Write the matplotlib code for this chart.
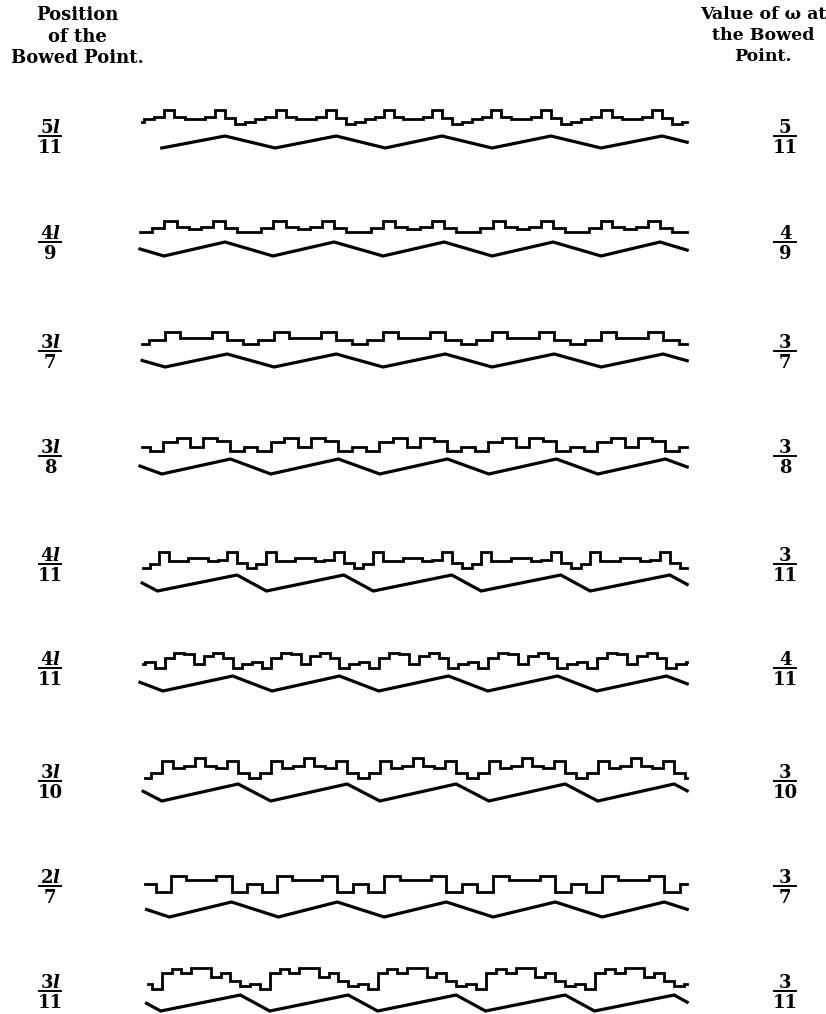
import numpy as np
import matplotlib.pyplot as plt
from matplotlib.lines import Line2D

plt.rcParams['font.family'] = 'DejaVu Serif'
plt.rcParams['font.weight'] = 'bold'
plt.rcParams['mathtext.fontset'] = 'custom'
plt.rcParams['mathtext.rm'] = 'DejaVu Serif:bold'
plt.rcParams['mathtext.bf'] = 'DejaVu Serif:bold'
plt.rcParams['mathtext.it'] = 'DejaVu Serif:italic:bold'

# position of the bowed point (p l / q) and value at the bowed point
pos_num = ['5', '4', '3', '3', '4', '4', '3', '2', '3']
pos_den = ['11', '9', '7', '8', '11', '11', '10', '7', '11']
val_num = ['5', '4', '3', '3', '3', '4', '3', '3', '3']
val_den = ['11', '9', '7', '8', '11', '11', '10', '7', '11']

# one period of the stepped curve (0 = low, 1 = high), starting at a peak of the triangle
step_levels = [
    [0.45, 0.1, 0.2, 0.4, 0.55, 1.0, 0.55, 0.4, 0.4, 0.55, 1.0],
    [0.4, 0.05, 0.05, 0.4, 1.0, 0.5, 0.3, 0.5, 1.0],
    [0.375, 0.05, 0.375, 1.0, 0.55, 0.55, 1.0],
    [0.08, 0.33, 0.08, 0.75, 1.0, 0.33, 1.0, 0.8],
    [0.3, 0.0, 0.25, 1.0, 0.45, 0.45, 0.65, 0.6, 0.45, 0.5, 1.0],
    [0.0, 0.3, 0.4, 0.0, 0.7, 1.0, 0.95, 0.25, 0.8, 1.0, 0.65],
    [0.24, 0.0, 0.24, 0.84, 0.48, 0.61, 1.0, 0.61, 0.48, 0.84],
    [0.05, 0.55, 0.05, 1.0, 0.77, 0.77, 1.0],
    [0.2, 0.27, 0.03, 0.75, 0.95, 0.75, 1.0, 1.0, 0.6, 0.75, 0.4],
]
# where the stepped curve begins (in periods)
step_start = [0.02, 0.0, 0.02, 0.02, 0.03, 0.03, 0.05, 0.05, 0.07]

# triangle (displacement) curve: vertex times in periods and heights
tri_t = [
    [0.20, 0.78, 1.24, 1.80, 2.25, 2.77, 3.23, 3.77, 4.23, 4.79, 5.02],
    [0.00, 0.22, 0.78, 1.22, 1.78, 2.23, 2.79, 3.23, 3.79, 4.23, 4.77, 5.02],
    [0.02, 0.23, 0.80, 1.23, 1.80, 2.23, 2.80, 3.23, 3.80, 4.23, 4.80, 5.02],
    [0.00, 0.20, 0.83, 1.20, 1.82, 2.20, 2.82, 3.20, 3.82, 4.20, 4.82, 5.02],
    [0.02, 0.16, 0.89, 1.16, 1.87, 2.14, 2.86, 3.13, 3.86, 4.13, 4.86, 5.02],
    [0.00, 0.21, 0.85, 1.21, 1.83, 2.19, 2.83, 3.19, 3.83, 4.19, 4.83, 5.02],
    [0.03, 0.20, 0.90, 1.20, 1.90, 2.20, 2.90, 3.20, 3.90, 4.20, 4.90, 5.02],
    [0.06, 0.27, 0.84, 1.27, 1.81, 2.24, 2.81, 3.24, 3.81, 4.24, 4.81, 5.02],
    [0.06, 0.19, 0.92, 1.19, 1.91, 2.18, 2.90, 3.17, 3.90, 4.17, 4.90, 5.02],
]
tri_v = [
    [0, 1, 0, 1, 0, 1, 0, 1, 0, 1, 0.48],
    [0.5, 0, 1, 0, 1, 0, 1, 0, 1, 0, 1, 0.42],
    [0.5, 0, 1, 0, 1, 0, 1, 0, 1, 0, 1, 0.48],
    [0.53, 0, 1, 0, 1, 0, 1, 0, 1, 0, 1, 0.47],
    [0.5, 0, 1, 0, 1, 0, 1, 0, 1, 0, 1, 0.41],
    [0.58, 0, 1, 0, 1, 0, 1, 0, 1, 0, 1, 0.48],
    [0.57, 0, 1, 0, 1, 0, 1, 0, 1, 0, 1, 0.6],
    [0.5, 0, 1, 0, 1, 0, 1, 0, 1, 0, 1, 0.51],
    [0.48, 0, 1, 0, 1, 0, 1, 0, 1, 0, 1, 0.55],
]

# layout (pixels)
W, H = 826, 1014
X0, X1 = 140, 688
PERIOD_PX = 109
# step top, step bottom, triangle top, triangle bottom
rows_px = [
    (110, 125, 136, 148),
    (221, 233, 242, 256),
    (332, 345, 354, 367),
    (438, 452, 459, 474),
    (552, 568, 575, 591),
    (653, 668, 676, 691),
    (758, 778, 784, 801),
    (876, 893, 902, 917),
    (968, 990, 995, 1011),
]
label_y = [136, 242, 351, 456, 564, 668, 781, 886, 991]


def step_wave(levels, t_tri, v_tri, t0, t1):
    peaks = [t for t, v in zip(t_tri, v_tri) if v == 1]
    edges = [peaks[0] - (peaks[1] - peaks[0])] + peaks + [peaks[-1] + (peaks[-1] - peaks[-2])]
    n = len(levels)
    ts, ys = [], []
    for a, b in zip(edges[:-1], edges[1:]):
        for j, lev in enumerate(levels):
            ts.append(a + (b - a) * j / n)
            ys.append(lev)
    ts, ys = np.array(ts), np.array(ys)
    i0 = np.searchsorted(ts, t0, side='right') - 1
    i1 = np.searchsorted(ts, t1, side='left')
    tt = np.concatenate([[t0], ts[i0 + 1:i1], [t1]])
    yy = np.concatenate([[ys[i0]], ys[i0 + 1:i1], [ys[i1 - 1]]])
    return tt, yy


fig = plt.figure(figsize=(W / 100, H / 100), dpi=100)
fig.patch.set_facecolor('white')

for i in range(9):
    s_hi, s_lo, t_hi, t_lo = rows_px[i]
    top, bot = s_hi - 8, t_lo + 8
    ax = fig.add_axes([X0 / W, 1 - bot / H, (X1 - X0) / W, (bot - top) / H])
    ax.set_xlim(0, (X1 - X0) / PERIOD_PX)
    ax.set_ylim(bot, top)
    ax.axis('off')

    tt, lv = step_wave(step_levels[i], tri_t[i], tri_v[i], step_start[i], tri_t[i][-1])
    ax.plot(tt, s_lo - lv * (s_lo - s_hi), drawstyle='steps-post', color='black',
            lw=2.0, solid_joinstyle='miter', clip_on=False)
    tv = np.array(tri_v[i])
    ax.plot(tri_t[i], t_lo - tv * (t_lo - t_hi), color='black', lw=2.3,
            solid_joinstyle='miter', clip_on=False)


def fraction(x, y, num, den, size=13):
    fig.text(x / W, 1 - (y - 3) / H, num, ha='center', va='baseline', fontsize=size)
    fig.text(x / W, 1 - (y + 3) / H, den, ha='center', va='top', fontsize=size)
    fig.add_artist(Line2D([(x - 11) / W, (x + 11) / W], [1 - y / H, 1 - y / H],
                          color='black', lw=1.4))


for i in range(9):
    fraction(50, label_y[i], r'$\mathbf{%s}\mathit{l}$' % pos_num[i], pos_den[i])
    fraction(785, label_y[i], val_num[i], val_den[i])

fig.text(77 / W, 1 - 6 / H, 'Position\nof the\nBowed Point.', ha='center', va='top',
         fontsize=13, linespacing=1.25)
fig.text(763 / W, 1 - 6 / H, 'Value of \u03c9 at\nthe Bowed\nPoint.', ha='center', va='top',
         fontsize=12.5, linespacing=1.3)

fig.savefig('out.png', dpi=100, facecolor='white')
